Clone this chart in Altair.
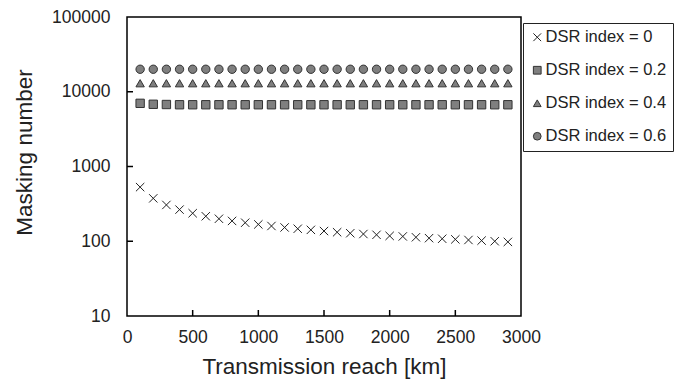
import altair as alt
import pandas as pd

reach_km = [100, 200, 300, 400, 500, 600, 700, 800, 900, 1000, 1100, 1200, 1300, 1400, 1500,
            1600, 1700, 1800, 1900, 2000, 2100, 2200, 2300, 2400, 2500, 2600, 2700, 2800, 2900]
dsr_0 = [530, 375, 306, 265, 237, 216, 200, 187, 177, 168, 160, 153, 147, 142, 137,
         132, 128, 125, 122, 118, 116, 113, 110, 108, 106, 104, 102, 100, 98]
dsr_02 = [7000, 6800, 6750, 6700, 6700, 6700, 6700, 6700, 6700, 6700, 6700, 6700, 6700, 6700, 6700,
          6700, 6700, 6700, 6700, 6700, 6700, 6700, 6700, 6700, 6700, 6700, 6700, 6700, 6700]
dsr_04 = [13000] * 29
dsr_06 = [20000] * 29
series_labels = ["DSR index = 0", "DSR index = 0.2", "DSR index = 0.4", "DSR index = 0.6"]
x_tick_labels = [0, 500, 1000, 1500, 2000, 2500, 3000]
y_tick_labels = [10, 100, 1000, 10000, 100000]
x_inner_ticks = [500, 1000, 1500, 2000, 2500]
y_inner_ticks = [100, 1000, 10000]

rows = []
for lab, vals in zip(series_labels, [dsr_0, dsr_02, dsr_04, dsr_06]):
    for x, v in zip(reach_km, vals):
        rows.append({"reach": x, "value": v, "series": lab})
df = pd.DataFrame(rows)

W, H = 394, 299
FONT = "Liberation Sans"
TXT = "#222222"
cross = "M-1,-1L1,1M-1,1L1,-1"
FILL = "#7f7f7f"
EDGE = "#333333"

xscale = alt.Scale(domain=[0, 3000], nice=False, zero=False)
yscale = alt.Scale(type="log", domain=[10, 100000], nice=False)

leg = alt.Legend(title=None, orient="none", legendX=396, legendY=6)

points = alt.Chart(df).mark_point(
    filled=True, strokeWidth=1, size=70, opacity=1
).encode(
    x=alt.X("reach:Q", scale=xscale,
            axis=alt.Axis(values=x_tick_labels, format="d", labelOverlap=False,
                          labelFlush=False, title="Transmission reach [km]",
                          labelPadding=12, titleY=50, titleBaseline="middle")),
    y=alt.Y("value:Q", scale=yscale,
            axis=alt.Axis(values=y_tick_labels, format="d", title="Masking number",
                          labelOverlap=False, labelFlush=False,
                          labelPadding=17, titleX=-103, titleY=135,
                          titleBaseline="middle", titleAlign="center")),
    shape=alt.Shape("series:N",
                    scale=alt.Scale(domain=series_labels,
                                    range=[cross, "square", "triangle-up", "circle"]),
                    legend=leg),
    fill=alt.Fill("series:N",
                  scale=alt.Scale(domain=series_labels, range=[FILL] * 4),
                  legend=leg),
    stroke=alt.Stroke("series:N",
                      scale=alt.Scale(domain=series_labels, range=["#222222", EDGE, EDGE, EDGE]),
                      legend=leg),
)

xt = pd.DataFrame({"reach": x_inner_ticks})
xticks = alt.Chart(xt).mark_rule(color="black", strokeWidth=1.5).encode(
    x=alt.X("reach:Q", scale=xscale),
    y=alt.value(H), y2=alt.value(H - 6),
)
yt = pd.DataFrame({"value": y_inner_ticks})
yticks = alt.Chart(yt).mark_rule(color="black", strokeWidth=1.5).encode(
    y=alt.Y("value:Q", scale=yscale),
    x=alt.value(0), x2=alt.value(6),
)

chart = alt.layer(xticks, yticks, points).properties(
    width=W, height=H, autosize="none",
    padding={"left": 119, "top": 9, "right": 165, "bottom": 64},
).configure_view(
    stroke="black", strokeWidth=1.5
).configure_axis(
    ticks=False, domain=False, grid=False,
    labelFont=FONT, labelFontSize=17.5, labelColor=TXT,
    titleFont=FONT, titleFontSize=22.5, titleFontWeight="normal", titleColor=TXT,
).configure_legend(
    strokeColor="#222222", fillColor="white", padding=6,
    labelFont=FONT, labelFontSize=16.5, labelColor=TXT, labelOffset=0,
    symbolSize=60, symbolStrokeWidth=1, rowPadding=16,
)

chart.save("out.html", embed_options={"renderer": "svg", "actions": False})
